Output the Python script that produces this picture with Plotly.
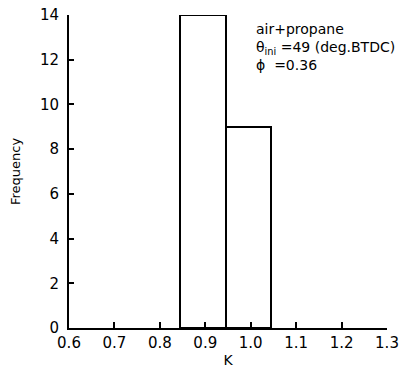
import plotly.graph_objects as go

bin_edges = [0.845, 0.945, 1.045]
counts = [14, 9]
x_ticks = [0.6, 0.7, 0.8, 0.9, 1.0, 1.1, 1.2, 1.3]
x_tick_labels = ["0.6", "0.7", "0.8", "0.9", "1.0", "1.1", "1.2", "1.3"]
y_ticks = [0, 2, 4, 6, 8, 10, 12, 14]

centers = [(a + b) / 2 for a, b in zip(bin_edges[:-1], bin_edges[1:])]
widths = [b - a for a, b in zip(bin_edges[:-1], bin_edges[1:])]

fig = go.Figure()
fig.add_trace(go.Bar(
    x=centers, y=counts, width=widths,
    marker=dict(color="white", line=dict(color="black", width=2)),
    showlegend=False, cliponaxis=False,
))

font = "DejaVu Sans, Verdana, sans-serif"
# the page adds an 8px body margin, so the figure is sized to fit inside it
fig.update_layout(
    width=395, height=360,
    margin=dict(l=61, r=16, t=7, b=40, autoexpand=False),
    paper_bgcolor="white", plot_bgcolor="white",
    font=dict(family=font, size=15, color="black"),
    bargap=0,
    xaxis=dict(
        range=[0.6, 1.3], tickvals=x_ticks, ticktext=x_tick_labels,
        ticks="inside", ticklen=6, tickwidth=2, tickcolor="black",
        showline=True, linecolor="black", linewidth=2,
        showgrid=False, zeroline=False, automargin=False,
        ticklabeloverflow="allow",
        title=dict(text="K", font=dict(size=14), standoff=4),
    ),
    yaxis=dict(
        range=[0, 14], tickvals=y_ticks,
        ticks="inside", ticklen=5, tickwidth=2, tickcolor="black",
        showline=True, linecolor="black", linewidth=2,
        showgrid=False, zeroline=False, automargin=False,
        ticklabeloverflow="allow", ticklabelstandoff=5,
        title=dict(text="Frequency", font=dict(size=13), standoff=16),
    ),
    annotations=[dict(
        x=1.008, y=13.8, xref="x", yref="y", xanchor="left", yanchor="top",
        align="left", showarrow=False,
        text="air+propane<br>θ<sub>ini</sub> =49 (deg.BTDC)<br>ϕ  =0.36",
        font=dict(size=14, family=font),
    )],
)

fig.write_html("out.html")
